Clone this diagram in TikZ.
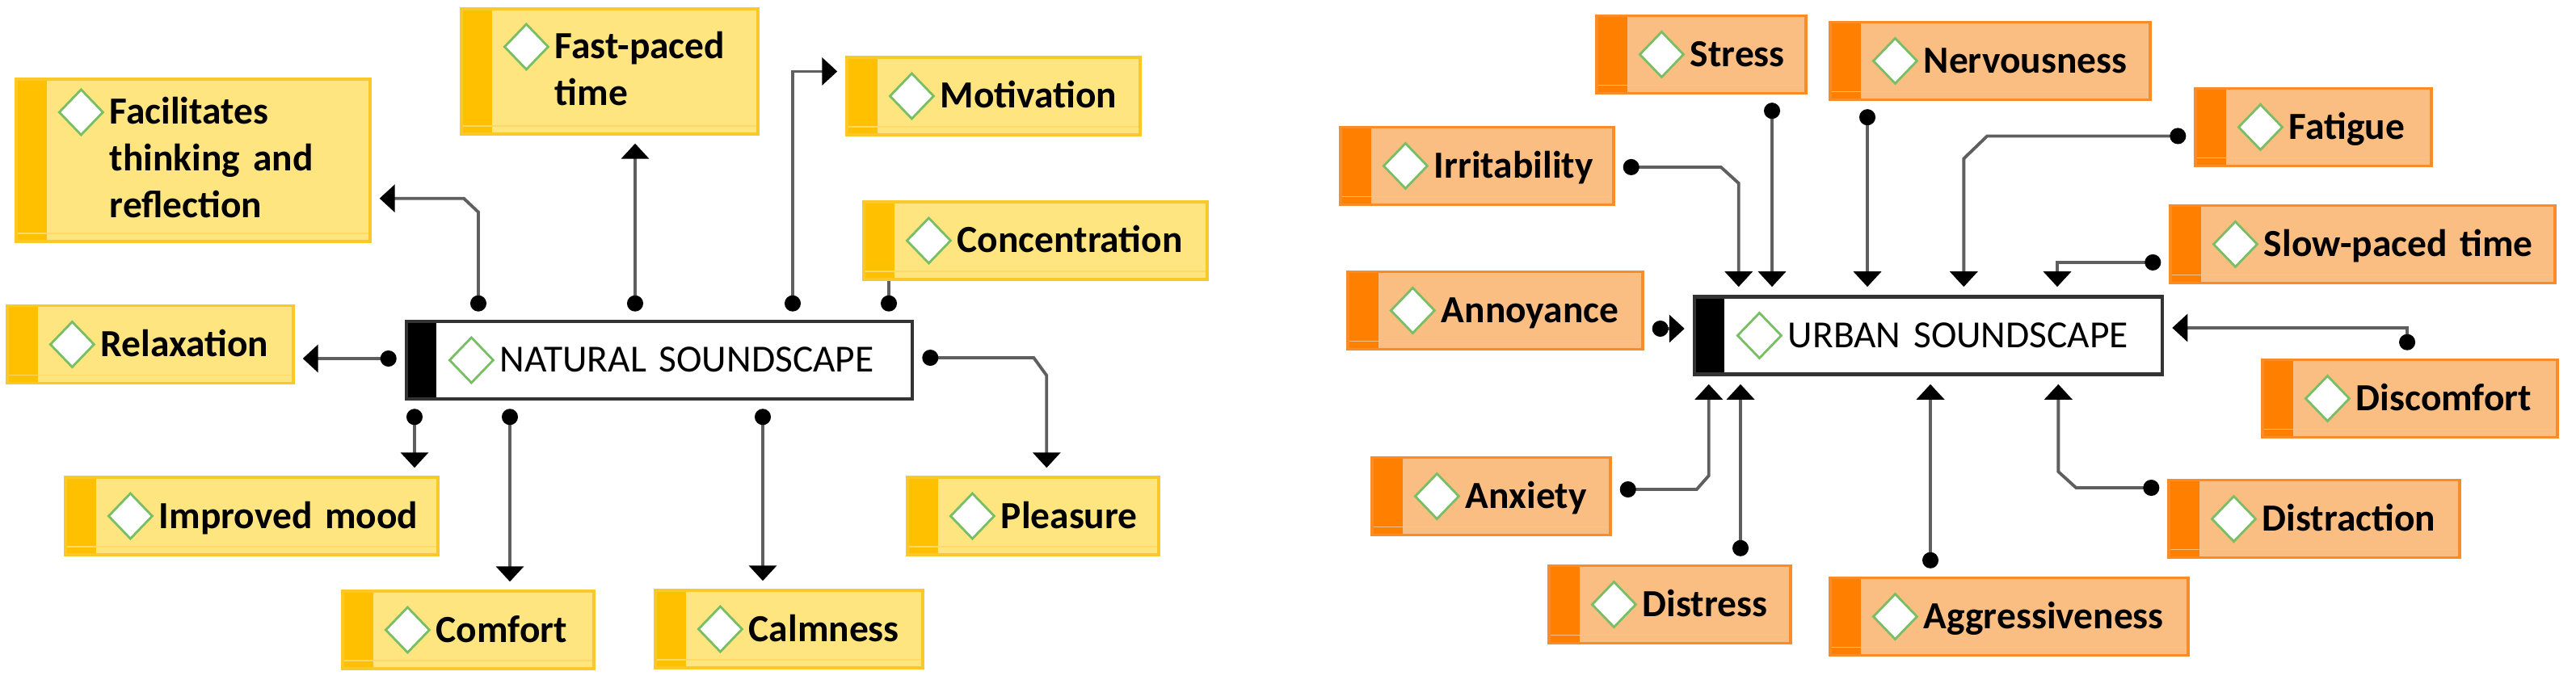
\documentclass[tikz,border=0pt]{standalone}
\usepackage{fontspec}
\setmainfont{Carlito}
\usepackage{tikz}
\usetikzlibrary{arrows.meta, positioning}
\definecolor{goldfill}{RGB}{255,229,128}
\definecolor{goldbar}{RGB}{255,192,0}
\definecolor{goldline}{RGB}{250,200,40}
\definecolor{amberfill}{RGB}{251,190,130}
\definecolor{amberbar}{RGB}{255,128,0}
\definecolor{amberline}{RGB}{250,140,40}
\definecolor{cuegreen}{RGB}{120,190,100}
\definecolor{linkgray}{RGB}{95,95,95}
\newcommand{\cuefont}{\fontsize{13.5}{16.5}\selectfont\bfseries}
\newcommand{\hubfont}{\fontsize{13.5}{16.5}\selectfont}
\newcommand{\cue}{\tikz[baseline=-0.15cm]\draw[cuegreen, fill=white, line width=0.8pt] (0,0.28) -- (0.27,0) -- (0,-0.28) -- (-0.27,0) -- cycle;}
\newcommand{\lbl}[1]{\hspace*{0.52cm}\cue\hspace{0.07cm}#1}

\begin{document}
\begin{tikzpicture}[
    node distance=1cm,
    good/.style={rectangle, draw=goldline, fill=goldfill, line width=1pt,
                 text width=#1, align=left, inner xsep=0pt, inner ysep=0pt,
                 minimum height=0.96cm, font=\cuefont,
                 path picture={\fill[goldbar] (path picture bounding box.south west)
                     rectangle ([xshift=0.38cm]path picture bounding box.north west);
                   \draw[goldbar!60, line width=0.5pt] ([yshift=0.1cm]path picture bounding box.south west)
                     -- ([yshift=0.1cm]path picture bounding box.south east);}},
    bad/.style={good=#1, draw=amberline, fill=amberfill,
                path picture={\fill[amberbar] (path picture bounding box.south west)
                     rectangle ([xshift=0.38cm]path picture bounding box.north west);
                   \draw[amberbar!50, line width=0.5pt] ([yshift=0.1cm]path picture bounding box.south west)
                     -- ([yshift=0.1cm]path picture bounding box.south east);}},
    hub/.style={rectangle, draw=black!80, fill=white, line width=1.3pt,
                text width=#1, align=left, inner xsep=0pt, inner ysep=0pt,
                minimum height=0.96cm, font=\hubfont,
                path picture={\fill[black] (path picture bounding box.south west)
                     rectangle ([xshift=0.37cm]path picture bounding box.north west);}},
    link/.style={draw=linkgray, line width=1.1pt,
                 {Circle[length=0.2cm, color=black]}-{Triangle[width=0.34cm, length=0.19cm, color=black]},
                 shorten <=0.1cm, shorten >=0.1cm},
    tie/.style={draw=linkgray, line width=1.1pt, {Circle[length=0.2cm, color=black]}-,
                shorten <=0.1cm}
]
\useasboundingbox (0,0) rectangle (31.88,8.47);

% Natural soundscape
\node[hub=6.26cm] (natural) at (8.16,4.01) {\lbl{NATURAL SOUNDSCAPE}};

\node[good=4.38cm, minimum height=2.01cm, above left=0.95cm and 0.41cm of natural] (facil)
    {\lbl{\begin{tabular}[t]{@{}l@{}}Facilitates\\thinking and\\reflection\end{tabular}}};
\node[good=3.67cm, minimum height=1.55cm, above=2.28cm of natural, xshift=-0.615cm] (fastpaced)
    {\lbl{\begin{tabular}[t]{@{}l@{}}Fast-paced\\time\end{tabular}}};
\node[good=3.63cm, above=2.27cm of natural, xshift=4.135cm] (motivation) {\lbl{Motivation}};
\node[good=4.25cm, above=0.48cm of natural, xshift=4.655cm] (concentration) {\lbl{Concentration}};
\node[good=3.54cm, left=1.36cm of natural, yshift=0.195cm] (relaxation) {\lbl{Relaxation}};
\node[good=4.61cm, below=0.93cm of natural, xshift=-5.045cm] (improved) {\lbl{Improved mood}};
\node[good=3.11cm, below=2.34cm of natural, xshift=-2.365cm] (comfort) {\lbl{Comfort}};
\node[good=3.31cm, below=2.33cm of natural, xshift=1.605cm] (calmness) {\lbl{Calmness}};
\node[good=3.11cm, below=0.93cm of natural, xshift=4.625cm] (pleasure) {\lbl{Pleasure}};

% Urban soundscape
\node[hub=5.79cm] (urban) at (23.865,4.315) {\lbl{URBAN SOUNDSCAPE}};

\node[bad=2.59cm, above=2.48cm of urban, xshift=-2.81cm] (stress) {\lbl{Stress}};
\node[bad=3.96cm, above=2.40cm of urban, xshift=0.765cm] (nervousness) {\lbl{Nervousness}};
\node[bad=3.38cm, above left=1.10cm and 0.96cm of urban] (irritability) {\lbl{Irritability}};
\node[bad=3.65cm, left=0.60cm of urban, yshift=0.31cm] (annoyance) {\lbl{Annoyance}};
\node[bad=2.92cm, above right=1.58cm and 0.37cm of urban] (fatigue) {\lbl{Fatigue}};
\node[bad=4.76cm, above right=0.13cm and 0.06cm of urban] (slowpaced) {\lbl{Slow-paced time}};
\node[bad=3.65cm, right=1.20cm of urban, yshift=-0.78cm] (discomfort) {\lbl{Discomfort}};
\node[bad=3.60cm, below right=1.27cm and 0.04cm of urban] (distraction) {\lbl{Distraction}};
\node[bad=4.43cm, below=2.48cm of urban, xshift=1.0cm] (aggressiveness) {\lbl{Aggressiveness}};
\node[bad=2.95cm, below left=0.99cm and 1.00cm of urban] (anxiety) {\lbl{Anxiety}};
\node[bad=2.99cm, below=2.33cm of urban, xshift=-3.2cm] (distress) {\lbl{Distress}};

% Connections (natural)
\draw[link] ([xshift=-2.24cm]natural.north) -- ++(0,1.33) -- ++(-0.18,0.17) coordinate (fk) -- (fk -| facil.east);
\draw[link] ([xshift=-0.3cm]natural.north) -- ([xshift=-0.3cm]natural.north |- fastpaced.south);
\draw[link] ([xshift=1.65cm]natural.north) |- ([yshift=0.305cm]motivation.west);
\draw[tie] ([xshift=2.84cm]natural.north) -- ([xshift=2.84cm]natural.north |- concentration.south);
\draw[link] ([yshift=0.02cm]natural.west) -- ([yshift=0.02cm]natural.west -| relaxation.east);
\draw[link] ([xshift=-3.03cm]natural.south) -- ([xshift=-3.03cm]natural.south |- improved.north);
\draw[link] ([xshift=-1.85cm]natural.south) -- ([xshift=-1.85cm]natural.south |- comfort.north);
\draw[link] ([xshift=1.28cm]natural.south) -- ([xshift=1.28cm]natural.south |- calmness.north);
\draw[link] ([yshift=0.03cm]natural.east) -- ++(1.48,0) -- ++(0.16,-0.22) coordinate (pk) -- (pk |- pleasure.north);

% Connections (urban)
\draw[link] ([yshift=-0.015cm]irritability.east) -- ++(1.31,0) -- ++(0.22,-0.2) coordinate (ik) -- (ik |- urban.north);
\draw[link] ([xshift=0.875cm]stress.south) -- ([xshift=0.875cm]stress.south |- urban.north);
\draw[link] ([xshift=-1.52cm]nervousness.south) -- ([xshift=-1.52cm]nervousness.south |- urban.north);
\draw[link] ([yshift=-0.11cm]fatigue.west) -- ++(-2.56,0) -- ++(-0.29,-0.28) coordinate (gk) -- (gk |- urban.north);
\draw[link] ([yshift=-0.225cm]slowpaced.west) -| ([xshift=1.595cm]urban.north);
\draw[link] ([yshift=-0.225cm]annoyance.east) -- ([yshift=-0.225cm]annoyance.east -| urban.west);
\draw[link] ([xshift=-0.035cm]discomfort.north) |- ([yshift=0.095cm]urban.east);
\draw[link] ([yshift=0.385cm]distraction.west) -- ++(-1.13,0) -- ++(-0.22,0.2) coordinate (dk) -- (dk |- urban.south);
\draw[link] ([xshift=-0.975cm]aggressiveness.north) -- ([xshift=-0.975cm]aggressiveness.north |- urban.south);
\draw[link] ([xshift=0.875cm]distress.north) -- ([xshift=0.875cm]distress.north |- urban.south);
\draw[link] ([yshift=0.085cm]anxiety.east) -- ++(1.05,0) -- ++(0.15,0.17) coordinate (ak) -- (ak |- urban.south);

\end{tikzpicture}
\end{document}
